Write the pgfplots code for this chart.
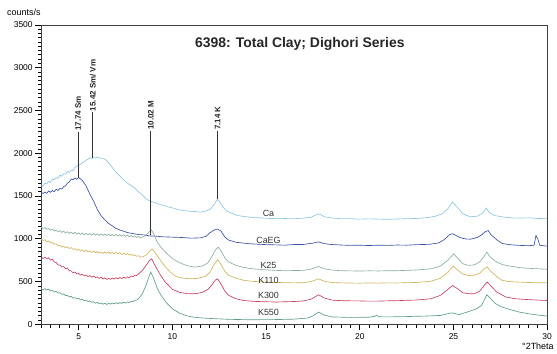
\documentclass[border=0pt]{standalone}
\usepackage{pgfplots}
\pgfplotsset{compat=1.18}
\usepackage{fontspec}
\setmainfont{Liberation Sans}
\definecolor{cCa}{HTML}{8CC6E2}
\definecolor{cCaEG}{HTML}{3A50A2}
\definecolor{cK25}{HTML}{8AAE9C}
\definecolor{cK110}{HTML}{CDB45A}
\definecolor{cK300}{HTML}{C63E5E}
\definecolor{cK550}{HTML}{5E9E84}
\begin{document}
\begin{tikzpicture}
\begin{axis}[
  name=ax,
  scale only axis, width=508pt, height=300.7pt,
  xmin=3, xmax=30, ymin=0, ymax=3500,
  xtick={5,10,15,20,25,30}, ytick={0,500,1000,1500,2000,2500,3000,3500},
  xticklabels={5,10,15,20,25,30},
  yticklabels={0,500,1000,1500,2000,2500,3000,3500},
  minor xtick={3,3.5,...,30}, minor ytick={0,50,...,3500},
  tick align=outside, xtick pos=bottom, ytick pos=left,
  major tick length=6pt, minor tick length=3.5pt,
  tick style={black, line width=0.8pt},
  axis line style={draw=black!75, line width=0.8pt},
  ticklabel style={font=\fontsize{8.5}{10}\selectfont},
  yticklabel style={xshift=1pt},
]
% Ca
\addplot[cCa, line width=0.65pt] coordinates {(3,1630)(3.1,1618)(3.2,1652)(3.3,1640)(3.4,1672)(3.5,1660)(3.6,1702)(3.7,1690)(3.8,1716)(3.9,1706)(4.0,1744)(4.1,1732)(4.2,1762)(4.3,1754)(4.4,1788)(4.5,1776)(4.6,1802)(4.7,1796)(4.8,1834)(5.0,1860)(5.1,1872)(5.2,1892)(5.3,1900)(5.4,1922)(5.5,1930)(5.6,1948)(5.7,1940)(5.8,1950)(5.9,1944)(6.0,1958)(6.1,1946)(6.2,1944)(6.3,1938)(6.4,1932)(6.5,1912)(6.6,1888)(6.8,1832)(7.0,1778)(7.2,1735)(7.4,1688)(7.6,1652)(7.8,1622)(8.0,1592)(8.2,1548)(8.4,1512)(8.6,1468)(8.8,1442)(9.0,1428)(9.2,1412)(9.4,1398)(9.6,1388)(9.8,1372)(10.0,1362)(10.3,1342)(10.6,1332)(10.9,1322)(11.2,1320)(11.5,1312)(11.8,1326)(12.0,1345)(12.2,1392)(12.4,1460)(12.5,1442)(12.7,1372)(12.9,1325)(13.2,1296)(13.5,1272)(13.9,1260)(14.3,1248)(14.7,1246)(15.2,1238)(15.8,1240)(16.4,1234)(17.0,1242)(17.4,1252)(17.7,1284)(17.85,1292)(18.1,1258)(18.5,1244)(19.0,1236)(19.5,1236)(20,1230)(20.5,1234)(21,1231)(21.5,1228)(22,1232)(22.5,1236)(23,1238)(23.5,1246)(24,1262)(24.4,1292)(24.7,1352)(24.95,1430)(25.2,1372)(25.5,1292)(25.9,1258)(26.3,1266)(26.6,1312)(26.75,1360)(26.9,1310)(27.2,1272)(27.7,1254)(28.3,1242)(29,1246)(29.5,1238)(30,1236)};
% CaEG
\addplot[cCaEG, line width=0.65pt] coordinates {(3,1545)(3.1,1530)(3.2,1546)(3.3,1532)(3.4,1560)(3.5,1544)(3.6,1566)(3.7,1552)(3.8,1580)(3.9,1566)(4.0,1590)(4.1,1582)(4.2,1610)(4.3,1620)(4.4,1650)(4.5,1664)(4.6,1700)(4.7,1690)(4.8,1712)(4.9,1696)(5.0,1718)(5.1,1700)(5.2,1682)(5.4,1618)(5.6,1522)(5.8,1440)(6.0,1342)(6.2,1270)(6.4,1222)(6.6,1180)(6.8,1152)(7.0,1120)(7.3,1096)(7.6,1074)(7.9,1062)(8.2,1050)(8.5,1046)(8.8,1034)(9.1,1032)(9.5,1024)(10,1020)(10.5,1016)(11,1008)(11.5,1012)(11.8,1030)(12.0,1070)(12.2,1100)(12.4,1115)(12.6,1090)(12.8,1022)(13.0,986)(13.4,960)(13.8,950)(14.3,940)(15,933)(15.5,930)(16,926)(16.5,934)(17,935)(17.5,950)(17.8,964)(18.1,944)(18.5,934)(19,928)(19.5,924)(20,926)(20.5,922)(21,926)(21.5,924)(22,928)(22.5,926)(23,932)(23.7,936)(24.2,952)(24.5,990)(24.8,1050)(24.95,1060)(25.1,1044)(25.3,1020)(25.5,1006)(25.7,998)(25.9,996)(26.1,1006)(26.3,1020)(26.5,1046)(26.7,1085)(26.85,1097)(27.0,1050)(27.3,990)(27.6,946)(28,932)(28.5,924)(29,920)(29.3,926)(29.4,1040)(29.5,1000)(29.6,925)(30,915)};
% K25
\addplot[cK25, line width=0.65pt] coordinates {(3,1135)(3.1,1122)(3.2,1132)(3.3,1112)(3.4,1120)(3.5,1100)(3.6,1112)(3.7,1092)(3.8,1104)(3.9,1084)(4.0,1096)(4.1,1076)(4.2,1090)(4.3,1070)(4.4,1084)(4.5,1064)(4.6,1078)(4.7,1060)(4.8,1076)(4.9,1056)(5.0,1070)(5.1,1052)(5.2,1068)(5.3,1048)(5.4,1064)(5.5,1046)(5.6,1062)(5.7,1044)(5.8,1062)(5.9,1042)(6.0,1060)(6.1,1040)(6.2,1058)(6.3,1040)(6.4,1056)(6.5,1038)(6.6,1054)(6.7,1036)(6.8,1052)(6.9,1034)(7.0,1052)(7.1,1032)(7.2,1050)(7.3,1030)(7.4,1048)(7.5,1028)(7.6,1044)(7.7,1024)(7.8,1040)(7.9,1022)(8.0,1034)(8.1,1016)(8.2,1028)(8.3,1010)(8.4,1020)(8.6,1040)(8.75,1080)(8.88,1105)(9.0,1060)(9.2,960)(9.4,900)(9.7,830)(10,770)(10.4,720)(10.8,686)(11.2,670)(11.6,682)(11.9,720)(12.1,790)(12.3,870)(12.45,903)(12.6,860)(12.8,780)(13.0,730)(13.4,690)(13.8,666)(14.3,650)(15,638)(15.5,632)(16,628)(16.5,630)(17,632)(17.4,646)(17.8,678)(18.1,650)(18.5,636)(19,628)(19.5,626)(20,624)(20.5,627)(21,625)(21.5,628)(22,628)(22.5,632)(23,636)(23.8,650)(24.3,682)(24.7,750)(25.0,825)(25.2,780)(25.5,710)(25.8,690)(26.1,696)(26.4,730)(26.65,800)(26.78,845)(26.95,790)(27.3,730)(27.6,700)(28,682)(28.5,665)(29,656)(29.5,650)(30,645)};
% K110
\addplot[cK110, line width=0.65pt] coordinates {(3,1000)(3.1,982)(3.2,990)(3.3,968)(3.4,976)(3.5,952)(3.6,958)(3.7,936)(3.8,942)(3.9,918)(4.0,926)(4.1,906)(4.2,916)(4.3,896)(4.4,908)(4.5,888)(4.6,898)(4.7,876)(4.8,886)(4.9,868)(5.0,880)(5.1,858)(5.2,872)(5.3,852)(5.4,866)(5.5,846)(5.6,860)(5.7,842)(5.8,856)(5.9,838)(6.0,852)(6.1,834)(6.2,848)(6.3,830)(6.4,846)(6.5,832)(6.6,848)(6.7,828)(6.8,844)(6.9,826)(7.0,842)(7.1,824)(7.2,838)(7.3,818)(7.4,832)(7.5,816)(7.6,828)(7.7,810)(7.8,822)(7.9,806)(8.0,812)(8.1,796)(8.2,804)(8.3,786)(8.45,792)(8.65,820)(8.8,860)(8.92,883)(9.05,850)(9.3,770)(9.6,680)(9.9,610)(10.2,560)(10.6,540)(11.0,533)(11.4,540)(11.8,565)(12.0,610)(12.2,690)(12.42,758)(12.6,700)(12.8,620)(13.0,575)(13.4,540)(13.8,516)(14.3,503)(15,496)(15.5,492)(16,488)(16.5,486)(17,488)(17.4,500)(17.8,533)(18.1,505)(18.5,490)(19,486)(19.5,484)(20,482)(20.5,485)(21,483)(21.5,486)(22,485)(22.5,488)(23,490)(23.8,505)(24.3,540)(24.7,610)(24.98,681)(25.2,640)(25.5,590)(25.8,572)(26.1,575)(26.4,600)(26.65,650)(26.8,670)(26.95,630)(27.3,560)(27.6,515)(28,500)(28.5,495)(29,490)(29.5,488)(30,486)};
% K300
\addplot[cK300, line width=0.65pt] coordinates {(3,790)(3.1,772)(3.2,786)(3.3,768)(3.4,778)(3.5,752)(3.6,762)(3.7,730)(3.8,724)(3.9,696)(4.0,694)(4.1,672)(4.2,676)(4.3,650)(4.4,660)(4.5,628)(4.6,626)(4.7,604)(4.8,612)(4.9,590)(5.0,596)(5.1,578)(5.2,588)(5.3,566)(5.4,578)(5.5,560)(5.6,570)(5.7,552)(5.8,566)(5.9,548)(6.0,556)(6.1,538)(6.2,550)(6.3,530)(6.4,544)(6.5,526)(6.6,538)(6.7,528)(6.8,542)(6.9,530)(7.0,546)(7.1,532)(7.2,548)(7.3,536)(7.4,552)(7.5,540)(7.6,556)(7.7,546)(7.8,566)(7.9,558)(8.0,574)(8.1,572)(8.2,592)(8.4,630)(8.6,690)(8.75,740)(8.9,767)(9.05,700)(9.3,600)(9.6,500)(10,410)(10.4,375)(10.8,360)(11.2,358)(11.6,375)(11.9,410)(12.1,460)(12.3,520)(12.42,533)(12.6,470)(12.8,390)(13.0,340)(13.4,300)(13.8,280)(14.3,270)(15,265)(15.5,262)(16,265)(16.5,268)(17,275)(17.4,295)(17.8,347)(18.1,310)(18.5,285)(19,278)(19.5,276)(20,275)(20.5,272)(21,273)(21.5,276)(22,278)(22.5,282)(23,285)(23.8,300)(24.3,340)(24.7,410)(24.95,455)(25.2,420)(25.5,370)(25.8,360)(26.1,358)(26.4,390)(26.65,460)(26.8,495)(26.95,460)(27.3,380)(27.8,320)(28.3,300)(29,290)(29.5,285)(30,280)};
% K550
\addplot[cK550, line width=0.65pt] coordinates {(3,420)(3.1,404)(3.2,418)(3.3,402)(3.4,412)(3.5,390)(3.6,398)(3.7,380)(3.8,388)(3.9,366)(4.0,372)(4.1,352)(4.2,358)(4.3,336)(4.4,342)(4.5,322)(4.6,330)(4.7,308)(4.8,314)(4.9,298)(5.0,306)(5.1,286)(5.2,294)(5.3,278)(5.4,286)(5.5,266)(5.6,276)(5.7,258)(5.8,266)(5.9,248)(6.0,258)(6.1,242)(6.2,252)(6.3,236)(6.4,248)(6.5,234)(6.6,246)(6.7,238)(6.8,250)(6.9,240)(7.0,254)(7.1,242)(7.2,256)(7.3,246)(7.4,260)(7.5,250)(7.6,262)(7.7,256)(7.8,270)(7.9,268)(8.0,280)(8.1,286)(8.2,302)(8.4,358)(8.6,460)(8.75,560)(8.85,611)(9.0,540)(9.2,420)(9.4,340)(9.7,250)(10,183)(10.4,130)(10.8,100)(11.1,86)(11.6,75)(12.3,67)(13,60)(14.1,55)(15.5,57)(16.5,62)(17.2,75)(17.5,100)(17.8,145)(18.1,110)(18.5,88)(19.5,82)(20.5,85)(20.8,95)(20.9,108)(21.0,90)(21.5,88)(22.5,92)(23.5,98)(24.3,105)(24.9,136)(25.3,115)(25.8,150)(26.2,180)(26.5,222)(26.65,290)(26.78,347)(26.95,310)(27.2,250)(27.5,210)(28,175)(28.5,145)(29,125)(29.5,110)(30,98)};

% reference lines
\addplot[black!80, line width=0.8pt] coordinates {(4.98,1712) (4.98,2252)};
\addplot[black!80, line width=0.8pt] coordinates {(5.76,1950) (5.76,2480)};
\addplot[black!80, line width=0.8pt] coordinates {(8.85,1040) (8.85,2260)};
\addplot[black!80, line width=0.8pt] coordinates {(12.42,1460) (12.42,2260)};
\node[font=\bfseries\fontsize{14}{16}\selectfont, text=black!85] at (axis cs:16.8,3275) {6398: Total Clay; Dighori Series};
\begin{scope}[every node/.style={rotate=90, anchor=west, inner sep=1pt, font=\bfseries\fontsize{8}{9}\selectfont, text=black!85}]
\node at (axis cs:4.98,2252) {17.74 Sm};
\node at (axis cs:5.76,2480) {15.42 Sm/ Vm};
\node at (axis cs:8.85,2260) {10.02 M};
\node at (axis cs:12.42,2260) {7.14 K};
\end{scope}
\begin{scope}[every node/.style={font=\fontsize{9}{10}\selectfont, text=black!80}]
\node at (axis cs:15.13,1292) {Ca};
\node at (axis cs:15.13,980) {CaEG};
\node at (axis cs:15.13,689) {K25};
\node at (axis cs:15.13,514) {K110};
\node at (axis cs:15.13,338) {K300};
\node at (axis cs:15.13,137) {K550};
\end{scope}
\end{axis}
\path ([xshift=-41.3pt, yshift=-28.3pt]ax.south west) rectangle ([xshift=515.7pt, yshift=325.7pt]ax.south west);
\node[font=\fontsize{9}{10}\selectfont] at ([xshift=-17.3pt, yshift=313.7pt]ax.south west) {counts/s};
\node[font=\fontsize{9}{10}\selectfont] at ([xshift=498.7pt, yshift=-22.3pt]ax.south west) {\textdegree 2Theta};
\end{tikzpicture}
\end{document}
